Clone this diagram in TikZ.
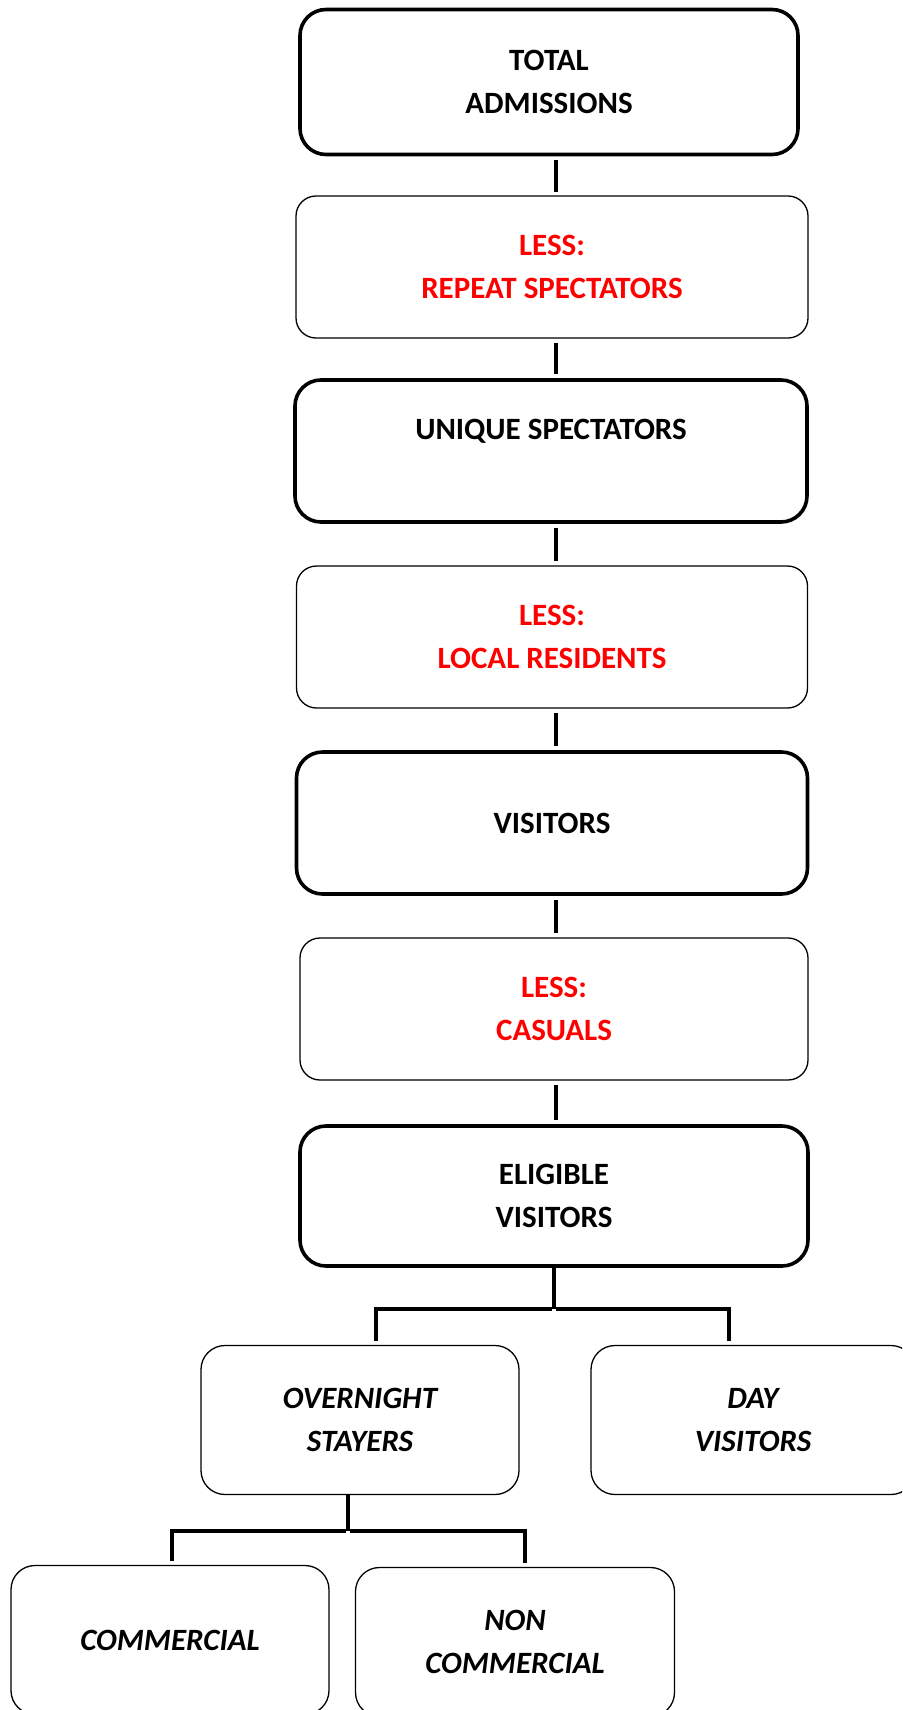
\documentclass[tikz,border=0pt]{standalone}
\usepackage{fontspec}
\setmainfont{Carlito}
\usepackage{tikz}
\usetikzlibrary{positioning,calc}

\tikzset{
    mainbox/.style={draw, line width=3.6pt, rounded corners=26pt, align=center,
        minimum width=508pt, minimum height=142pt, inner sep=0pt,
        font=\fontsize{31}{43}\selectfont\bfseries},
    lessbox/.style={mainbox, line width=1.3pt, rounded corners=20pt, text=red},
    splitbox/.style={mainbox, line width=1.3pt, rounded corners=24pt,
        minimum width=318pt, minimum height=149pt,
        font=\fontsize{31}{43}\selectfont\bfseries\itshape},
    link/.style={line width=3.6pt}
}

\begin{document}
\begin{tikzpicture}[x=1pt, y=-1pt]
    \useasboundingbox (0,0) rectangle (902,1710);
    \clip (0,0) rectangle (902,1710);

    % main chain
    \node[mainbox, minimum width=498pt, minimum height=145pt] (total) at (549,82) {\raisebox{-3pt}{TOTAL}\\\raisebox{-3pt}{ADMISSIONS}};
    \node[lessbox, minimum width=512pt] (repeat) at (552,267) {LESS:\\REPEAT SPECTATORS};
    \node[mainbox, minimum width=512pt] (unique) at (551,451) {UNIQUE SPECTATORS\\~};
    \node[lessbox, minimum width=511pt] (local) at (552,637) {LESS:\\LOCAL RESIDENTS};
    \node[mainbox, minimum width=511pt] (visitors) at (552,823) {VISITORS};
    \node[lessbox] (casuals) at (554,1009) {LESS:\\CASUALS};
    \node[mainbox, minimum height=140pt] (eligible) at (554,1196) {ELIGIBLE\\VISITORS};

    % split of eligible visitors
    \node[splitbox] (overnight) at (360,1420) {OVERNIGHT\\STAYERS};
    \node[splitbox, minimum width=324pt] (day) at (753,1420) {DAY\\VISITORS};

    % split of overnight stayers
    \node[splitbox] (commercial) at (170,1640) {COMMERCIAL};
    \node[splitbox, minimum width=319pt] (noncomm) at (515,1642) {NON\\COMMERCIAL};

    % connectors (one vertical spine)
    \coordinate (spine) at (556,0);
    \draw[link] ([yshift=-4pt]total.south -| spine) -- ([yshift=3pt]repeat.north -| spine);
    \draw[link] ([yshift=-4pt]repeat.south -| spine) -- ([yshift=4pt]unique.north -| spine);
    \draw[link] ([yshift=-4pt]unique.south -| spine) -- ([yshift=4pt]local.north -| spine);
    \draw[link] ([yshift=-4pt]local.south -| spine) -- ([yshift=4pt]visitors.north -| spine);
    \draw[link] ([yshift=-4pt]visitors.south -| spine) -- ([yshift=4pt]casuals.north -| spine);
    \draw[link] ([yshift=-4pt]casuals.south -| spine) -- ([yshift=4pt]eligible.north -| spine);

    \coordinate (split1) at ($(eligible.south)+(0,41)$);
    \draw[link] (eligible.south) -- (split1);
    \draw[link] ([xshift=-1.8pt]split1) -| ([xshift=16pt,yshift=4pt]overnight.north);
    \draw[link] ([xshift=1.8pt]split1) -| ([xshift=-24pt,yshift=4pt]day.north);

    \coordinate (split2) at ($(overnight.south)+(-12,36)$);
    \draw[link] ([xshift=-12pt]overnight.south) -- (split2);
    \draw[link] ([xshift=-1.8pt]split2) -| ([xshift=2pt,yshift=4pt]commercial.north);
    \draw[link] ([xshift=1.8pt]split2) -| ([xshift=10pt,yshift=4pt]noncomm.north);
\end{tikzpicture}
\end{document}
